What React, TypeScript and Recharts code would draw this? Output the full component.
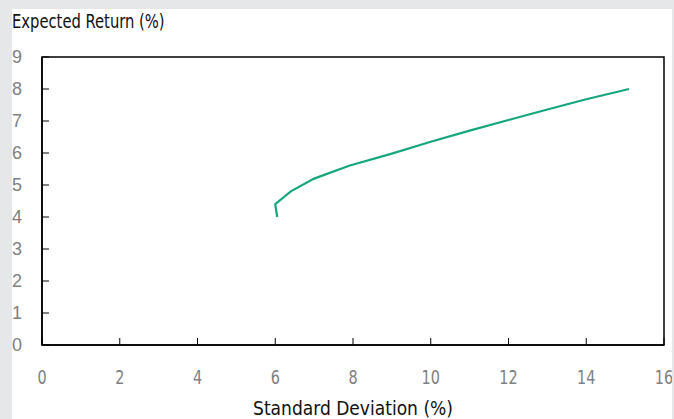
import React from 'react';
import { LineChart, Line, XAxis, YAxis, ReferenceArea } from 'recharts';

const stdDev = [6.05, 6.0, 6.4, 7.0, 7.9, 9.0, 10.0, 11.0, 12.0, 13.0, 14.0, 15.1];
const expReturn = [4.0, 4.4, 4.8, 5.2, 5.6, 5.98, 6.35, 6.7, 7.03, 7.36, 7.68, 8.0];
const xTicks = [0, 2, 4, 6, 8, 10, 12, 14, 16];
const yTicks = [0, 1, 2, 3, 4, 5, 6, 7, 8, 9];

const data = stdDev.map((sd, i) => ({ sd, ret: expReturn[i] }));

const FONT = '"DejaVu Sans Condensed", "Liberation Sans", sans-serif';
const TICK_COLOR = '#7e8083';

const XTick = (props: any) => {
  const { x, y, payload } = props;
  return (
    <g>
      <line x1={x} y1={y} x2={x} y2={y - 7} stroke="#000" strokeWidth={1} />
      <text
        transform={`translate(${x},${y + 32}) scale(0.8,1)`}
        textAnchor="middle"
        dominantBaseline="central"
        fill={TICK_COLOR}
        fontSize={20}
        fontFamily={FONT}
      >
        {payload.value}
      </text>
    </g>
  );
};

const YTick = (props: any) => {
  const { x, y, payload } = props;
  return (
    <g>
      <line x1={x} y1={y} x2={x + 7} y2={y} stroke="#000" strokeWidth={1} />
      <text x={x - 30} y={y} textAnchor="start" dominantBaseline="central" fill={TICK_COLOR} fontSize={18} fontFamily='"Liberation Sans", sans-serif'>
        {payload.value}
      </text>
    </g>
  );
};

export default function App() {
  return (
    <div style={{ position: 'absolute', left: 0, top: 0, width: 674, height: 419, background: '#e6e7e8', overflow: 'hidden' }}>
      <div style={{ position: 'absolute', left: 12, top: 9, width: 660, height: 410, background: '#fff' }}>
        <LineChart width={660} height={410} data={data} margin={{ top: 48, right: 8, bottom: 0, left: 0 }} style={{ overflow: 'visible' }}>
          <XAxis
            dataKey="sd"
            type="number"
            domain={[0, 16]}
            ticks={xTicks}
            height={74}
            tickSize={0}
            tickMargin={0}
            tickLine={false}
            axisLine={{ stroke: '#000', strokeWidth: 1.5 }}
            tick={<XTick />}
            interval={0}
          />
          <YAxis
            type="number"
            domain={[0, 9]}
            ticks={yTicks}
            width={30}
            tickSize={0}
            tickMargin={0}
            tickLine={false}
            axisLine={{ stroke: '#000', strokeWidth: 1.5 }}
            tick={<YTick />}
            interval={0}
          />
          <ReferenceArea x1={0} x2={16} y1={0} y2={9} fill="none" stroke="#000" strokeWidth={1.5} />
          <Line
            type="linear"
            dataKey="ret"
            stroke="#16a67f"
            strokeWidth={2.2}
            dot={false}
            isAnimationActive={false}
          />
        </LineChart>
      </div>
      <div
        style={{
          position: 'absolute',
          left: 12,
          top: 9,
          fontFamily: FONT,
          fontSize: 20,
          lineHeight: '24px',
          color: '#111',
          whiteSpace: 'nowrap',
          transform: 'scaleX(0.82)',
          transformOrigin: 'left center',
        }}
      >
        Expected Return (%)
      </div>
      <div
        style={{
          position: 'absolute',
          left: 42,
          width: 622,
          top: 398,
          textAlign: 'center',
          fontFamily: FONT,
          fontSize: 20,
          lineHeight: '20px',
          color: '#111',
          whiteSpace: 'nowrap',
          transform: 'scaleX(0.95)',
          transformOrigin: 'center center',
        }}
      >
        Standard Deviation (%)
      </div>
    </div>
  );
}
